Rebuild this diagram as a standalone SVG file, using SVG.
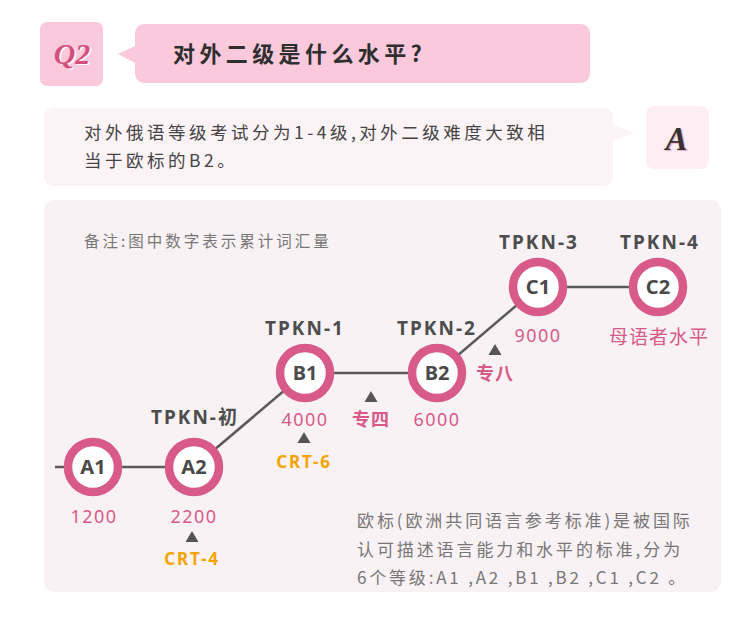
<svg xmlns="http://www.w3.org/2000/svg" width="750" height="639" viewBox="0 0 750 639">
<style>
.cjk{font-family:"Noto Sans CJK SC","Noto Sans",sans-serif;}
.ring{fill:#fff;stroke:#d75a88;stroke-width:8.5;}
.lvl{font-family:"Noto Sans","Noto Sans CJK SC",sans-serif;font-size:20px;font-weight:bold;fill:#4a4a4a;text-anchor:middle;}
.tp{font-family:"Noto Sans","Noto Sans CJK SC",sans-serif;font-size:19px;font-weight:bold;fill:#4d4d4d;text-anchor:middle;letter-spacing:2px;}
.num{font-family:"Noto Sans","Noto Sans CJK SC",sans-serif;font-size:18px;fill:#d75a88;text-anchor:middle;letter-spacing:1.5px;}
.crt{font-family:"Noto Sans","Noto Sans CJK SC",sans-serif;font-size:17px;font-weight:bold;fill:#f5a300;text-anchor:middle;letter-spacing:1.8px;}
.zh{font-family:"Noto Sans CJK SC",sans-serif;font-size:18px;font-weight:bold;fill:#d75a88;text-anchor:middle;letter-spacing:1px;}
.tri{fill:#555;}
.con{stroke:#5a5a5a;stroke-width:2.5;fill:none;}
</style>
<rect width="750" height="639" fill="#fff"/>
<g id="question">
<rect x="40" y="22" width="63" height="64" rx="7" fill="#fbc9dc"/>
<text x="73.5" y="65" font-family="Liberation Serif,serif" font-size="30" font-weight="bold" font-style="italic" fill="#fff" text-anchor="middle">Q2</text>
<text x="72" y="63.5" font-family="Liberation Serif,serif" font-size="30" font-weight="bold" font-style="italic" fill="#d4507f" text-anchor="middle">Q2</text>
<rect x="135" y="24" width="455" height="59" rx="9" fill="#fbc9dc"/>
<path d="M118,54 L137,45 L137,64 Z" fill="#fbc9dc"/>
<text x="173" y="62" class="cjk" font-size="22" font-weight="bold" fill="#2e2e2e" letter-spacing="4.4">对外二级是什么水平?</text>
</g>
<g id="answer">
<rect x="44" y="108" width="569" height="78" rx="9" fill="#fcf3f7"/>
<path d="M612,124 L634,133 L612,141 Z" fill="#fcf3f7"/>
<text x="84" y="139" class="cjk" font-size="17.5" fill="#444" letter-spacing="3.5">对外俄语等级考试分为1-4级,对外二级难度大致相</text>
<text x="84" y="167" class="cjk" font-size="17.5" fill="#444" letter-spacing="3.5">当于欧标的B2。</text>
<rect x="646" y="106" width="63" height="63" rx="8" fill="#fdeef3"/>
<text x="678" y="151" font-family="Liberation Serif,serif" font-size="33" font-weight="bold" font-style="italic" fill="#f4b3c9" text-anchor="middle">A</text>
<text x="676.5" y="149.5" font-family="Liberation Serif,serif" font-size="33" font-weight="bold" font-style="italic" fill="#333" text-anchor="middle">A</text>
</g>
<g id="panel">
<rect x="44" y="200" width="677" height="392" rx="10" fill="#f9f2f5"/>
<text x="84" y="247" class="cjk" font-size="15.5" fill="#777" letter-spacing="3">备注:图中数字表示累计词汇量</text>
</g>
<g id="connectors">
<line class="con" x1="55" y1="467" x2="93" y2="467"/>
<line class="con" x1="93" y1="467" x2="194" y2="467"/>
<line class="con" x1="194" y1="467" x2="305" y2="373"/>
<line class="con" x1="305" y1="373" x2="437" y2="373"/>
<line class="con" x1="437" y1="373" x2="538" y2="287"/>
<line class="con" x1="538" y1="287" x2="658" y2="287"/>
</g>
<g id="node-A1">
<circle class="ring" cx="93" cy="467" r="25"/>
<text class="lvl" x="93" y="474">A1</text>
<text class="num" x="94" y="523">1200</text>
</g>
<g id="node-A2">
<circle class="ring" cx="194" cy="467" r="25"/>
<text class="lvl" x="194" y="474">A2</text>
<text class="tp" x="195" y="424">TPKN-初</text>
<text class="num" x="194" y="523">2200</text>
<path class="tri" d="M192,531 L198.5,542 L185.5,542 Z"/>
<text class="crt" x="192" y="565">CRT-4</text>
</g>
<g id="node-B1">
<circle class="ring" cx="305" cy="373" r="25"/>
<text class="lvl" x="305" y="380">B1</text>
<text class="tp" x="305" y="335">TPKN-1</text>
<text class="num" x="305" y="426">4000</text>
<path class="tri" d="M304,432 L310.5,443 L297.5,443 Z"/>
<text class="crt" x="304" y="468">CRT-6</text>
</g>
<g id="mark-zhuansi">
<path class="tri" d="M371,391 L377.5,402 L364.5,402 Z"/>
<text class="zh" x="371" y="426">专四</text>
</g>
<g id="node-B2">
<circle class="ring" cx="437" cy="373" r="25"/>
<text class="lvl" x="437" y="380">B2</text>
<text class="tp" x="437" y="335">TPKN-2</text>
<text class="num" x="437" y="426">6000</text>
</g>
<g id="mark-zhuanba">
<path class="tri" d="M495,344 L501.5,355 L488.5,355 Z"/>
<text class="zh" x="495" y="380">专八</text>
</g>
<g id="node-C1">
<circle class="ring" cx="538" cy="287" r="25"/>
<text class="lvl" x="538" y="294">C1</text>
<text class="tp" x="539" y="249">TPKN-3</text>
<text class="num" x="538" y="342">9000</text>
</g>
<g id="node-C2">
<circle class="ring" cx="658" cy="287" r="25"/>
<text class="lvl" x="658" y="294">C2</text>
<text class="tp" x="660" y="249">TPKN-4</text>
<text class="cjk" x="659" y="344" font-size="19" fill="#d75a88" text-anchor="middle" letter-spacing="1">母语者水平</text>
</g>
<g id="note">
<text x="357" y="527" class="cjk" font-size="17" fill="#777" letter-spacing="2.9">欧标(欧洲共同语言参考标准)是被国际</text>
<text x="357" y="556" class="cjk" font-size="17" fill="#777" letter-spacing="2.9">认可描述语言能力和水平的标准,分为</text>
<text x="357" y="584" class="cjk" font-size="17" fill="#777" letter-spacing="2.8">6个等级:A1 ,A2 ,B1 ,B2 ,C1 ,C2 。</text>
</g>
</svg>
